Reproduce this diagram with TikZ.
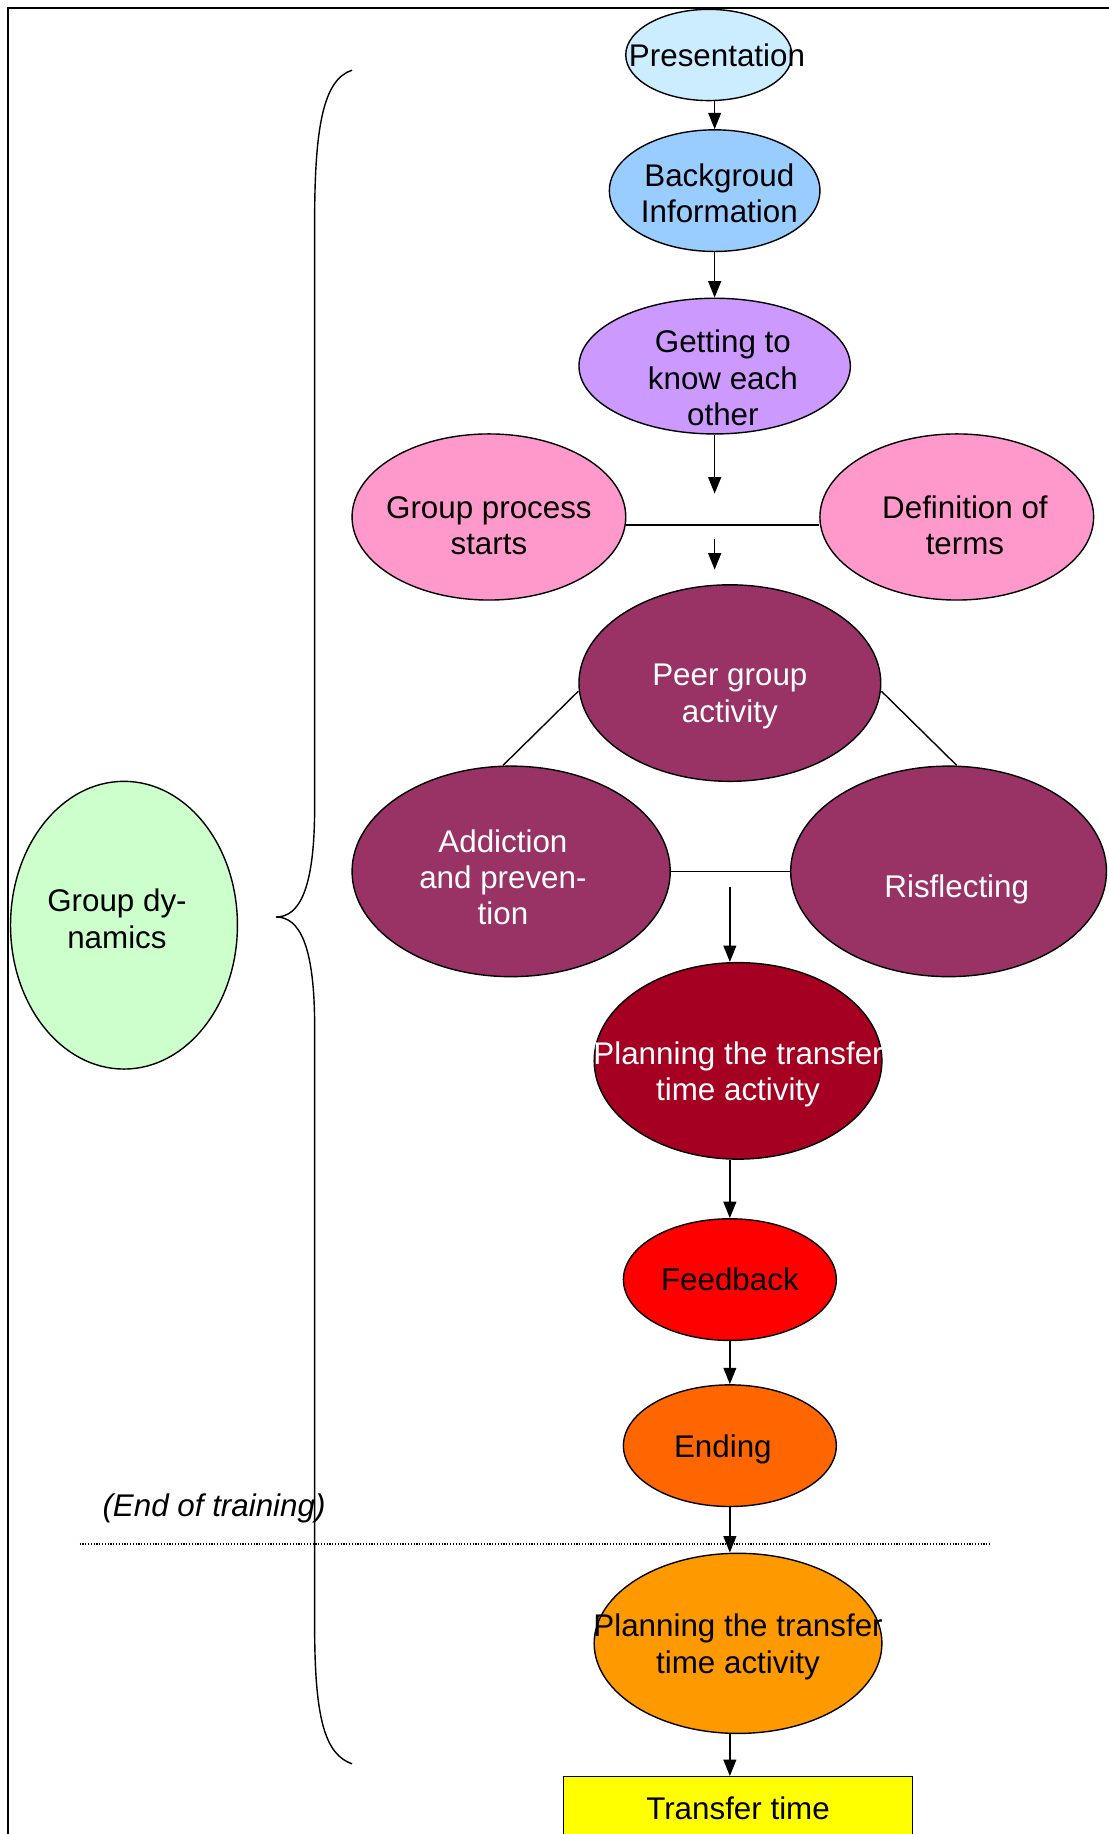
\documentclass[tikz,border=0pt]{standalone}
\usepackage{fontspec}
\setmainfont{Liberation Sans}
\usetikzlibrary{arrows.meta,shapes.geometric}
\definecolor{FlowSky}{HTML}{CCECFF}
\definecolor{FlowBlue}{HTML}{99CCFF}
\definecolor{FlowLilac}{HTML}{CC99FF}
\definecolor{FlowPink}{HTML}{FF99CC}
\definecolor{FlowPlum}{HTML}{993366}
\definecolor{FlowWine}{HTML}{A50021}
\definecolor{FlowRed}{HTML}{FF0000}
\definecolor{FlowOrange}{HTML}{FF6600}
\definecolor{FlowAmber}{HTML}{FF9900}
\definecolor{FlowYellow}{HTML}{FFFF00}
\definecolor{FlowMint}{HTML}{CCFFCC}

\begin{document}
\begin{tikzpicture}[x=0.5pt,y=-0.5pt,
    bub/.style={ellipse,draw,line width=0.6pt,inner sep=0pt},
    lbl/.style={align=center,font=\fontsize{13.4}{15.5}\selectfont},
    flow/.style={-{Triangle[length=7pt,width=5.5pt]},line width=0.6pt}]
        \useasboundingbox (0,0) rectangle (948,1568);
        \clip (0,0) rectangle (948,1568);

        % frame (right and bottom edges fall outside the page)
        \draw[line width=0.6pt] (7,7) rectangle (990,1620);

        % main column
        \node[bub,fill=FlowSky,minimum width=71pt,minimum height=39pt,
          label={[lbl,xshift=3.5pt]center:Presentation}] (pres) at (606,47) {};
        \node[bub,fill=FlowBlue,minimum width=90pt,minimum height=52pt,
          label={[lbl,xshift=2pt,yshift=-1.2pt]center:{Backgroud\\Information}}] (back) at (611,163) {};
        \node[bub,fill=FlowLilac,minimum width=116pt,minimum height=58pt,
          label={[lbl,xshift=3.5pt,yshift=-5pt]center:{Getting to\\know each\\other}}] (know) at (611,313) {};

        \node[bub,fill=FlowPink,minimum width=117pt,minimum height=71pt,
          label={[lbl,yshift=-3.7pt]center:{Group process\\starts}}] (gps) at (418,442) {};
        \node[bub,fill=FlowPink,minimum width=117pt,minimum height=71pt,
          label={[lbl,xshift=3.5pt,yshift=-3.7pt]center:{Definition of\\terms}}] (def) at (818,442) {};

        \node[bub,fill=FlowPlum,minimum width=129pt,minimum height=84pt,
          label={[lbl,text=white,yshift=-5.7pt]center:{Peer group\\activity}}] (peer) at (624,584) {};
        \node[bub,fill=FlowPlum,minimum width=136pt,minimum height=90pt,
          label={[lbl,text=white,xshift=-3.5pt,yshift=-2.5pt]center:{Addiction\\and preven-\\tion}}] (add) at (437,745) {};
        \node[bub,fill=FlowPlum,minimum width=135pt,minimum height=90pt,
          label={[lbl,text=white,xshift=3.5pt,yshift=-7.5pt]center:Risflecting}] (ris) at (811,745) {};

        \node[bub,fill=FlowWine,minimum width=123pt,minimum height=84pt,
          label={[lbl,text=white,yshift=-5.7pt]center:{Planning the transfer\\time activity}}] (plan) at (631,907) {};
        \node[bub,fill=FlowRed,minimum width=91pt,minimum height=52pt,
          label={[lbl]center:Feedback}] (feed) at (624,1094) {};
        \node[bub,fill=FlowOrange,minimum width=91pt,minimum height=52pt,
          label={[lbl,xshift=-3pt,yshift=-1.5pt]center:Ending}] (end) at (624,1236) {};
        \node[bub,fill=FlowAmber,minimum width=123pt,minimum height=77pt,
          label={[lbl,yshift=-1.5pt]center:{Planning the transfer\\time activity}}] (trans) at (631,1405) {};
        \node[lbl,draw,fill=FlowYellow,line width=0.6pt,minimum width=149pt,
          minimum height=27pt] (tt) at (631,1546) {Transfer time};

        % left side
        \node[bub,fill=FlowMint,minimum width=97pt,minimum height=123pt,
          label={[lbl,xshift=-3pt,yshift=2.7pt]center:{Group dy-\\namics}}] (gdyn) at (106,791) {};
        \node[lbl,font=\fontsize{13.4}{15.5}\selectfont\itshape] (eot) at (183,1290) {(End of training)};

        \draw[line width=0.6pt]
          (301,60) .. controls (276,68) and (269,110) .. (269,190)
          -- (269,690) .. controls (269,760) and (256,784) .. (236,784)
          .. controls (256,784) and (269,808) .. (269,878)
          -- (269,1390) .. controls (269,1470) and (278,1500) .. (301,1508);

        \draw[line width=0.5pt,dash pattern=on 0.5pt off 0.7pt] (68,1320) -- (847,1320);

        % connectors
        \coordinate (k1) at (611,422);
        \coordinate (s1) at (611,461);
        \coordinate (s2) at (611,487);
        \coordinate (p1) at (624,758);

        \draw[flow] (back.north |- pres.south) -- (back.north);
        \draw[flow] (back.south) -- (know.north);
        \draw[flow] (know.south) -- (k1);
        \draw[line width=0.7pt] ([yshift=-3.5pt]gps.east) -- ([yshift=-3.5pt]def.west);
        \draw[flow] (s1) -- (s2);
        \draw[line width=0.6pt] ([yshift=-3.5pt]peer.west) -- ([xshift=-3.5pt]add.north);
        \draw[line width=0.6pt] ([yshift=-3.5pt]peer.east) -- ([xshift=3.5pt]ris.north);
        \draw[line width=0.6pt] (add) -- (ris);
        \draw[flow] (p1) -- (p1 |- plan.north);
        \draw[flow] (feed.north |- plan.south) -- (feed.north);
        \draw[flow] (feed.south) -- (end.north);
        \draw[flow] (end.south) -- (end.south |- trans.north);
        \draw[flow] (end.south |- trans.south) -- (end.south |- tt.north);
      \end{tikzpicture}
\end{document}
